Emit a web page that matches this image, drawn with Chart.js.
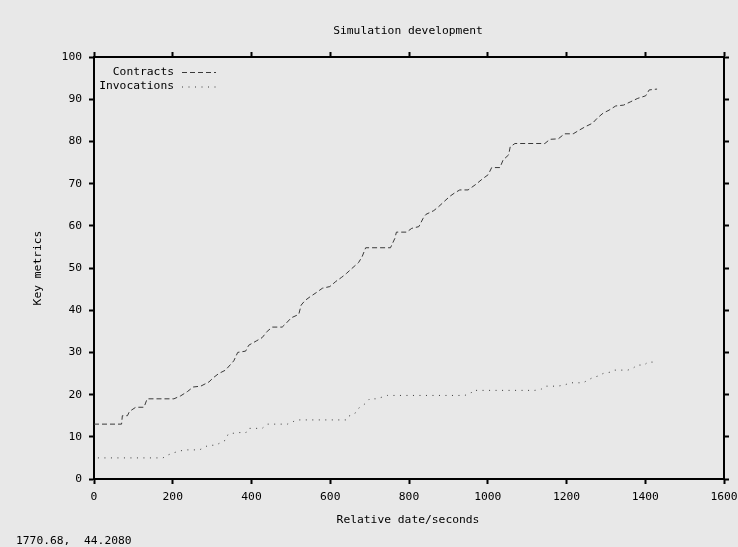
<!DOCTYPE html>
<html>
<head>
<meta charset="utf-8">
<script src="https://cdn.jsdelivr.net/npm/chart.js@4.4.1/dist/chart.umd.min.js"></script>
<style>
  html, body { margin: 0; padding: 0; background: #e8e8e8; }
  #wrap { width: 738px; height: 547px; }
</style>
</head>
<body>
<div id="wrap"><canvas id="simChart" width="738" height="547"></canvas></div>
<script>
// Contracts over time (seconds, count)
const contractTimes = [0, 55, 70, 72, 85, 90, 106, 127, 135, 203, 220, 237, 252, 271, 292, 303, 317, 334, 355, 365,
  385, 393, 412, 427, 440, 453, 478, 489, 501, 520, 526, 536, 549, 565, 580, 599, 614, 629, 641, 655,
  672, 681, 690, 753, 764, 768, 794, 807, 825, 836, 843, 863, 876, 891, 904, 916, 929, 950, 971, 985,
  1001, 1010, 1031, 1039, 1053, 1057, 1069, 1145, 1158, 1179, 1195, 1217, 1233, 1248, 1266, 1278, 1293, 1308, 1325, 1345,
  1363, 1381, 1401, 1410, 1430];
const contractCounts = [13, 13, 13, 15, 15, 16, 17, 17, 19, 19, 19.7, 20.7, 21.8, 22, 23, 24, 25, 25.8, 28, 30,
  30.3, 31.7, 32.7, 33.5, 35, 36, 36, 37, 38.2, 39, 41.2, 42.3, 43.2, 44.2, 45.2, 45.6, 46.8, 47.8, 48.7, 49.9,
  51.3, 52.7, 54.8, 54.8, 57, 58.5, 58.5, 59.4, 59.8, 61.8, 62.7, 63.6, 64.6, 65.9, 67, 67.8, 68.5, 68.5, 69.9, 71,
  72.1, 73.8, 73.8, 75.6, 76.8, 78.7, 79.5, 79.5, 80.5, 80.6, 81.8, 81.8, 82.7, 83.5, 84.3, 85.5, 86.7, 87.4, 88.4, 88.6,
  89.4, 90.2, 90.8, 92.2, 92.4];

// Invocations over time (seconds, count)
const invocationTimes = [10, 175, 188, 202, 216, 232, 268, 282, 291, 309, 334, 341, 368, 386, 391, 427, 441, 491, 506, 515,
  641, 647, 662, 668, 691, 700, 718, 745, 941, 957, 962, 1120, 1136, 1147, 1178, 1196, 1209, 1242, 1266, 1280,
  1293, 1310, 1322, 1356, 1371, 1380, 1397, 1407, 1424];
const invocationCounts = [5, 5, 5.7, 6.2, 6.6, 6.9, 6.9, 7.6, 8, 8, 9.2, 10.7, 11, 11, 12, 12, 13, 13, 13.6, 14,
  14, 14.9, 15.4, 16.5, 18, 19, 19, 19.8, 19.8, 20.3, 21, 21, 21.3, 22, 22, 22.3, 22.8, 22.8, 24, 24.4,
  25, 25.3, 25.8, 25.8, 26.4, 27, 27, 27.7, 27.7];

const seriesNames = ['Contracts', 'Invocations'];
const xTicks = [0, 200, 400, 600, 800, 1000, 1200, 1400, 1600];
const yTicks = [0, 10, 20, 30, 40, 50, 60, 70, 80, 90, 100];

const toPoints = (xs, ys) => xs.map((x, i) => ({ x: x, y: ys[i] }));

const MONO = "'DejaVu Sans Mono', 'Liberation Mono', monospace";
const lineColor = '#3a3a3a';
const dashes = [[5, 3], [1, 5.5]];

// background + gnuplot-ish text (title, axis labels, key, status line)
const decorations = {
  id: 'decorations',
  beforeDraw(chart) {
    const ctx = chart.ctx;
    ctx.save();
    ctx.fillStyle = '#e8e8e8';
    ctx.fillRect(0, 0, chart.width, chart.height);
    ctx.restore();
  },
  afterDraw(chart) {
    const ctx = chart.ctx;
    const area = chart.chartArea;
    ctx.save();
    ctx.fillStyle = '#000';
    ctx.font = '11.3px ' + MONO;
    ctx.textBaseline = 'middle';

    ctx.textAlign = 'center';
    ctx.fillText('Simulation development', 408, 31);
    ctx.fillText('Relative date/seconds', 408, 520);

    ctx.save();
    ctx.translate(38, (area.top + area.bottom) / 2);
    ctx.rotate(-Math.PI / 2);
    ctx.fillText('Key metrics', 0, 0);
    ctx.restore();

    ctx.textAlign = 'left';
    ctx.fillText('1770.68,  44.2080', 16, 541);

    // key in the top-left corner
    seriesNames.forEach((name, i) => {
      const y = 72 + i * 14.5;
      ctx.textAlign = 'right';
      ctx.fillStyle = '#000';
      ctx.fillText(name, 174, y);
      ctx.beginPath();
      ctx.strokeStyle = lineColor;
      ctx.lineWidth = 1;
      ctx.setLineDash(dashes[i]);
      ctx.moveTo(182, y + 0.5);
      ctx.lineTo(216, y + 0.5);
      ctx.stroke();
    });
    ctx.restore();
  }
};

const tickFont = { family: MONO, size: 11.3 };

const axisGrid = {
  drawOnChartArea: false,
  drawTicks: true,
  tickLength: 5,
  tickWidth: 2,
  tickColor: '#000',
  color: '#000'
};
const axisBorder = { display: true, color: '#000', width: 2 };

const fixedTicks = (values) => (scale) => {
  scale.ticks = values.map(v => ({ value: v }));
};
const plainLabel = (v) => String(v);

// pin each axis box so the frame sits at 94..724 x 57..479
const fixBox = (w, h) => (s) => {
  if (w !== null) s.width = w;
  if (h !== null) s.height = h;
  s.paddingLeft = 0;
  s.paddingRight = 0;
  s.paddingTop = 0;
  s.paddingBottom = 0;
};

const ctx = document.getElementById('simChart').getContext('2d');

const simChart = new Chart(ctx, {
  type: 'line',
  data: {
    datasets: [
      {
        label: seriesNames[0],
        data: toPoints(contractTimes, contractCounts),
        borderColor: lineColor,
        borderWidth: 1,
        borderDash: dashes[0],
        pointRadius: 0,
        tension: 0,
        fill: false,
        xAxisID: 'x',
        yAxisID: 'y'
      },
      {
        label: seriesNames[1],
        data: toPoints(invocationTimes, invocationCounts),
        borderColor: lineColor,
        borderWidth: 1,
        borderDash: dashes[1],
        pointRadius: 0,
        tension: 0,
        fill: false,
        xAxisID: 'x',
        yAxisID: 'y'
      }
    ]
  },
  options: {
    responsive: false,
    animation: false,
    events: [],
    layout: { padding: 0 },
    plugins: {
      legend: { display: false },
      tooltip: { enabled: false },
      title: { display: false }
    },
    scales: {
      x: {
        type: 'linear',
        position: 'bottom',
        min: 0,
        max: 1600,
        afterBuildTicks: fixedTicks(xTicks),
        ticks: { color: '#000', font: tickFont, padding: 6, maxRotation: 0, callback: plainLabel },
        grid: axisGrid,
        border: axisBorder,
        afterFit: fixBox(null, 68)
      },
      x2: {
        type: 'linear',
        position: 'top',
        min: 0,
        max: 1600,
        afterBuildTicks: fixedTicks(xTicks),
        ticks: { display: false },
        grid: axisGrid,
        border: axisBorder,
        afterFit: fixBox(null, 57)
      },
      y: {
        type: 'linear',
        position: 'left',
        min: 0,
        max: 100,
        afterBuildTicks: fixedTicks(yTicks),
        ticks: { color: '#000', font: tickFont, padding: 7, callback: plainLabel },
        grid: axisGrid,
        border: axisBorder,
        afterFit: fixBox(94, null)
      },
      y2: {
        type: 'linear',
        position: 'right',
        min: 0,
        max: 100,
        afterBuildTicks: fixedTicks(yTicks),
        ticks: { display: false },
        grid: axisGrid,
        border: axisBorder,
        afterFit: fixBox(14, null)
      }
    }
  },
  plugins: [decorations]
});
</script>
</body>
</html>
